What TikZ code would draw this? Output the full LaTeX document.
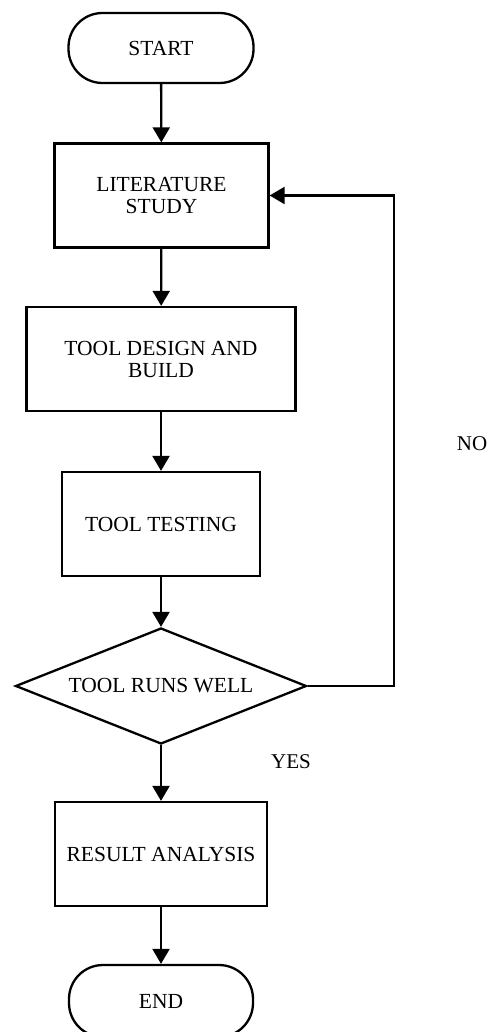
\documentclass[tikz,border=0pt]{standalone}
\usepackage{fontspec}
\setmainfont{Liberation Serif}
\usetikzlibrary{shapes.geometric,arrows.meta}
\begin{document}
\begin{tikzpicture}[x=1pt,y=-1pt,
  every node/.style={font=\fontsize{21.5}{22}\selectfont, align=center, inner sep=0pt},
  box/.style={draw, line width=2.3pt, rectangle, minimum height=104pt},
  term/.style={draw, line width=2.3pt, rectangle, rounded corners=34pt, minimum width=185pt, minimum height=70pt},
  dec/.style={draw, line width=2.3pt, diamond, aspect=2.5, minimum width=291pt, minimum height=116pt, inner sep=0pt},
  conn/.style={line width=2.3pt, -{Triangle[length=15pt,width=17pt]}},
  lbl/.style={font=\fontsize{21}{22}\selectfont}]
\useasboundingbox (0,0) rectangle (496,1032);
\clip (0,0) rectangle (496,1032);
\node[term] (start) at (161,48) {START};
\node[box, minimum width=214pt] (lit) at (161.5,195.5) {LITERATURE\\STUDY};
\node[box, minimum width=269pt] (design) at (161,359) {TOOL DESIGN AND\\BUILD};
\node[box, minimum width=198pt] (test) at (161,524) {TOOL TESTING};
\node[dec] (dec) at (161,686) {TOOL RUNS WELL};
\node[box, minimum width=212pt] (res) at (161,854) {RESULT ANALYSIS};
\node[term, minimum width=184pt, minimum height=72pt] (end) at (161,1001) {END};
\coordinate (c1) at (394,686);
\coordinate (c2) at (394,195.5);
\draw[conn] (start) -- (lit);
\draw[conn] (lit) -- (design);
\draw[conn] (design) -- (test);
\draw[conn] (test) -- (dec);
\draw[conn] (dec) -- (res);
\draw[conn] (res) -- (end);
\draw[conn] (dec.east) -- (c1) -- (c2) -- (lit.east);
\node[lbl] (no) at (472,444) {NO};
\node[lbl] (yes) at (291,762) {YES};
\end{tikzpicture}
\end{document}
